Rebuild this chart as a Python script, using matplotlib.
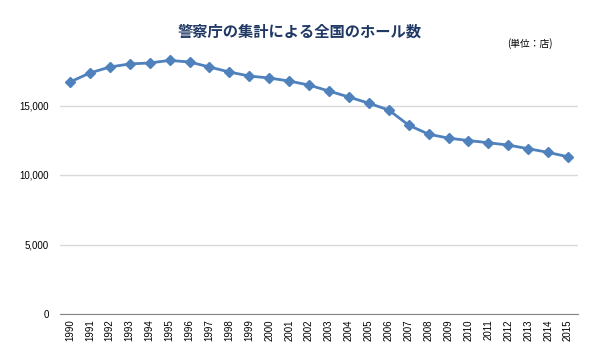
import matplotlib
matplotlib.use("Agg")
import matplotlib.pyplot as plt
from matplotlib.ticker import FuncFormatter

plt.rcParams['font.family'] = ['Liberation Sans', 'Noto Sans CJK JP', 'DejaVu Sans']

years = [str(y) for y in range(1990, 2016)]
halls = [16690, 17340, 17770, 17990, 18060, 18244, 18130, 17770, 17410, 17120,
         16980, 16760, 16470, 16040, 15610, 15165, 14674, 13585, 12937, 12652,
         12479, 12323, 12149, 11893, 11627, 11310]
yticks = [0, 5000, 10000, 15000]
title = "警察庁の集計による全国のホール数"
unit = "(単位：店)"

fig = plt.figure(figsize=(6, 3.56), dpi=100)
ax = fig.add_axes([60/600, 1-314/356, 518/600, (314-36)/356])
x = list(range(len(years)))
ax.plot(x, halls, color='#4F81BD', lw=2, marker='D', ms=5.5, zorder=3)
ax.set_xlim(-0.5, len(years)-0.5)
ax.set_ylim(0, 20000)
ax.set_yticks(yticks)
ax.yaxis.set_major_formatter(FuncFormatter(lambda v, p: f"{int(v):,}"))
ax.set_xticks(x)
ax.set_xticklabels(years, rotation=90, fontsize=7)
ax.tick_params(axis='y', length=0, labelsize=7, pad=8)
ax.tick_params(axis='x', length=0, pad=4)
ax.grid(axis='y', color='#D9D9D9', lw=1)
ax.set_axisbelow(True)
for s in ['top', 'right', 'left']:
    ax.spines[s].set_visible(False)
ax.spines['bottom'].set_color('#868686')
fig.text(0.5, 1-32/356, title, ha='center', va='center', fontsize=11,
         fontweight='bold', color='#1F3864', family=['Noto Sans CJK JP'])
fig.text(530/600, 1-44/356, unit, ha='center', va='center', fontsize=7,
         color='black', family=['Noto Sans CJK JP'])
fig.savefig('out.png', dpi=100)
